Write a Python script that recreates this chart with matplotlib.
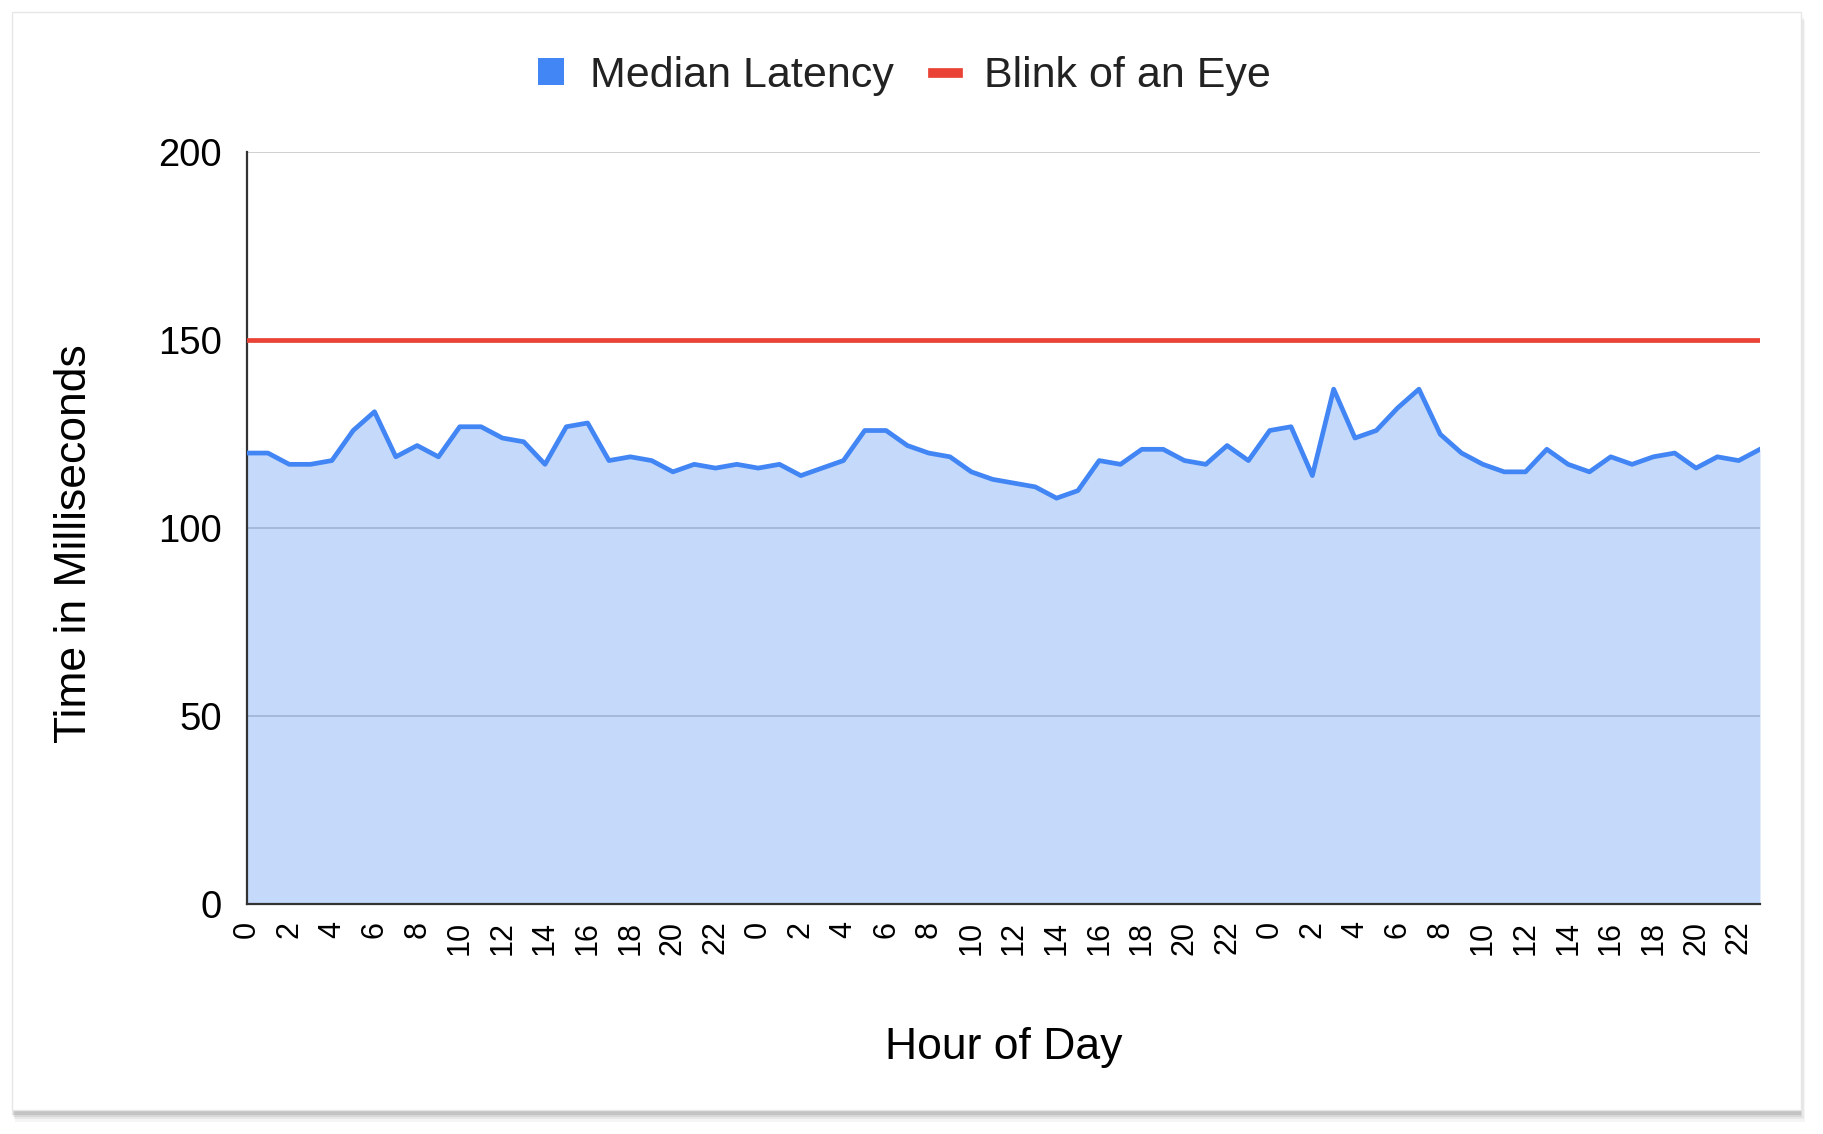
import numpy as np
import matplotlib
matplotlib.use("Agg")
import matplotlib.pyplot as plt
from matplotlib.patches import Rectangle

plt.rcParams['font.family'] = ['Liberation Sans', 'DejaVu Sans']

# median latency per hour, three consecutive days
latency = [
    120, 120, 117, 117, 118, 126, 131, 119, 122, 119, 127, 127,
    124, 123, 117, 127, 128, 118, 119, 118, 115, 117, 116, 117,
    116, 117, 114, 116, 118, 126, 126, 122, 120, 119, 115, 113,
    112, 111, 108, 110, 118, 117, 121, 121, 118, 117, 122, 118,
    126, 127, 114, 137, 124, 126, 132, 137, 125, 120, 117, 115,
    115, 121, 117, 115, 119, 117, 119, 120, 116, 119, 118, 121,
]
blink = 150
hours = [i % 24 for i in range(len(latency))]
tick_pos = list(range(0, len(latency), 2))
tick_labels = [str(hours[i]) for i in tick_pos]
yticks = [0, 50, 100, 150, 200]

blue = '#4285f4'
red = '#ea4335'

fig = plt.figure(figsize=(18.24, 11.34), dpi=100)
fig.patch.set_facecolor('white')

# card with soft shadow
for k, a in enumerate([0.04, 0.05, 0.07, 0.09]):
    off = (4 - k) * 0.002
    fig.patches.append(Rectangle((0.006 + off * 0.3, 0.019 - off), 0.981, 0.971,
                                 transform=fig.transFigure, facecolor='black',
                                 alpha=a, edgecolor='none', zorder=-10))
fig.patches.append(Rectangle((0.0064, 0.0212), 0.981, 0.9685,
                             transform=fig.transFigure, facecolor='white',
                             edgecolor='#e6e6e6', linewidth=1, zorder=-9))

ax = fig.add_axes([0.1352, 0.2028, 0.8297, 0.6628])
ax.set_zorder(5)
ax.set_facecolor('none')
x = np.arange(len(latency))

ax.fill_between(x, 0, latency, color=blue, alpha=0.3, linewidth=0, zorder=2)
ax.plot(x, latency, color=blue, linewidth=3.4, zorder=3, label='Median Latency')
ax.axhline(blink, color=red, linewidth=3.4, zorder=3, label='Blink of an Eye')

ax.set_xlim(0, len(latency) - 1)
ax.set_ylim(0, 200)
ax.set_yticks(yticks)
ax.set_yticklabels([str(v) for v in yticks])
ax.set_xticks(tick_pos)
ax.set_xticklabels(tick_labels, rotation=90)
ax.tick_params(axis='y', length=0, pad=18, labelsize=27.5, labelcolor='black')
ax.tick_params(axis='x', length=0, pad=12, labelsize=22, labelcolor='black')

ax.grid(axis='y', color='#cccccc', linewidth=1.3, zorder=1)
ax.grid(axis='x', visible=False)
ax.set_axisbelow(True)
for s in ['top', 'right']:
    ax.spines[s].set_visible(False)
ax.spines['left'].set_color('#333333')
ax.spines['left'].set_linewidth(1.6)
ax.spines['bottom'].set_color('#333333')
ax.spines['bottom'].set_linewidth(1.6)

ax.set_ylabel('Time in Milliseconds', fontsize=32)
ax.yaxis.set_label_coords(-0.1, 0.479)
ax.set_xlabel('Hour of Day', fontsize=32, labelpad=52)

handles = [Rectangle((0, 0), 1, 1, facecolor=blue, edgecolor='none'),
           plt.Line2D([0], [0], color=red, linewidth=7)]
leg = fig.legend(handles, ['Median Latency', 'Blink of an Eye'], loc='center',
                 bbox_to_anchor=(0.496, 0.933), ncol=2, frameon=False,
                 fontsize=31, handlelength=0.6, handleheight=0.6,
                 handletextpad=0.6, columnspacing=0.9)
for t in leg.get_texts():
    t.set_color('#222222')

fig.savefig('out.png', dpi=100, facecolor=fig.get_facecolor())
